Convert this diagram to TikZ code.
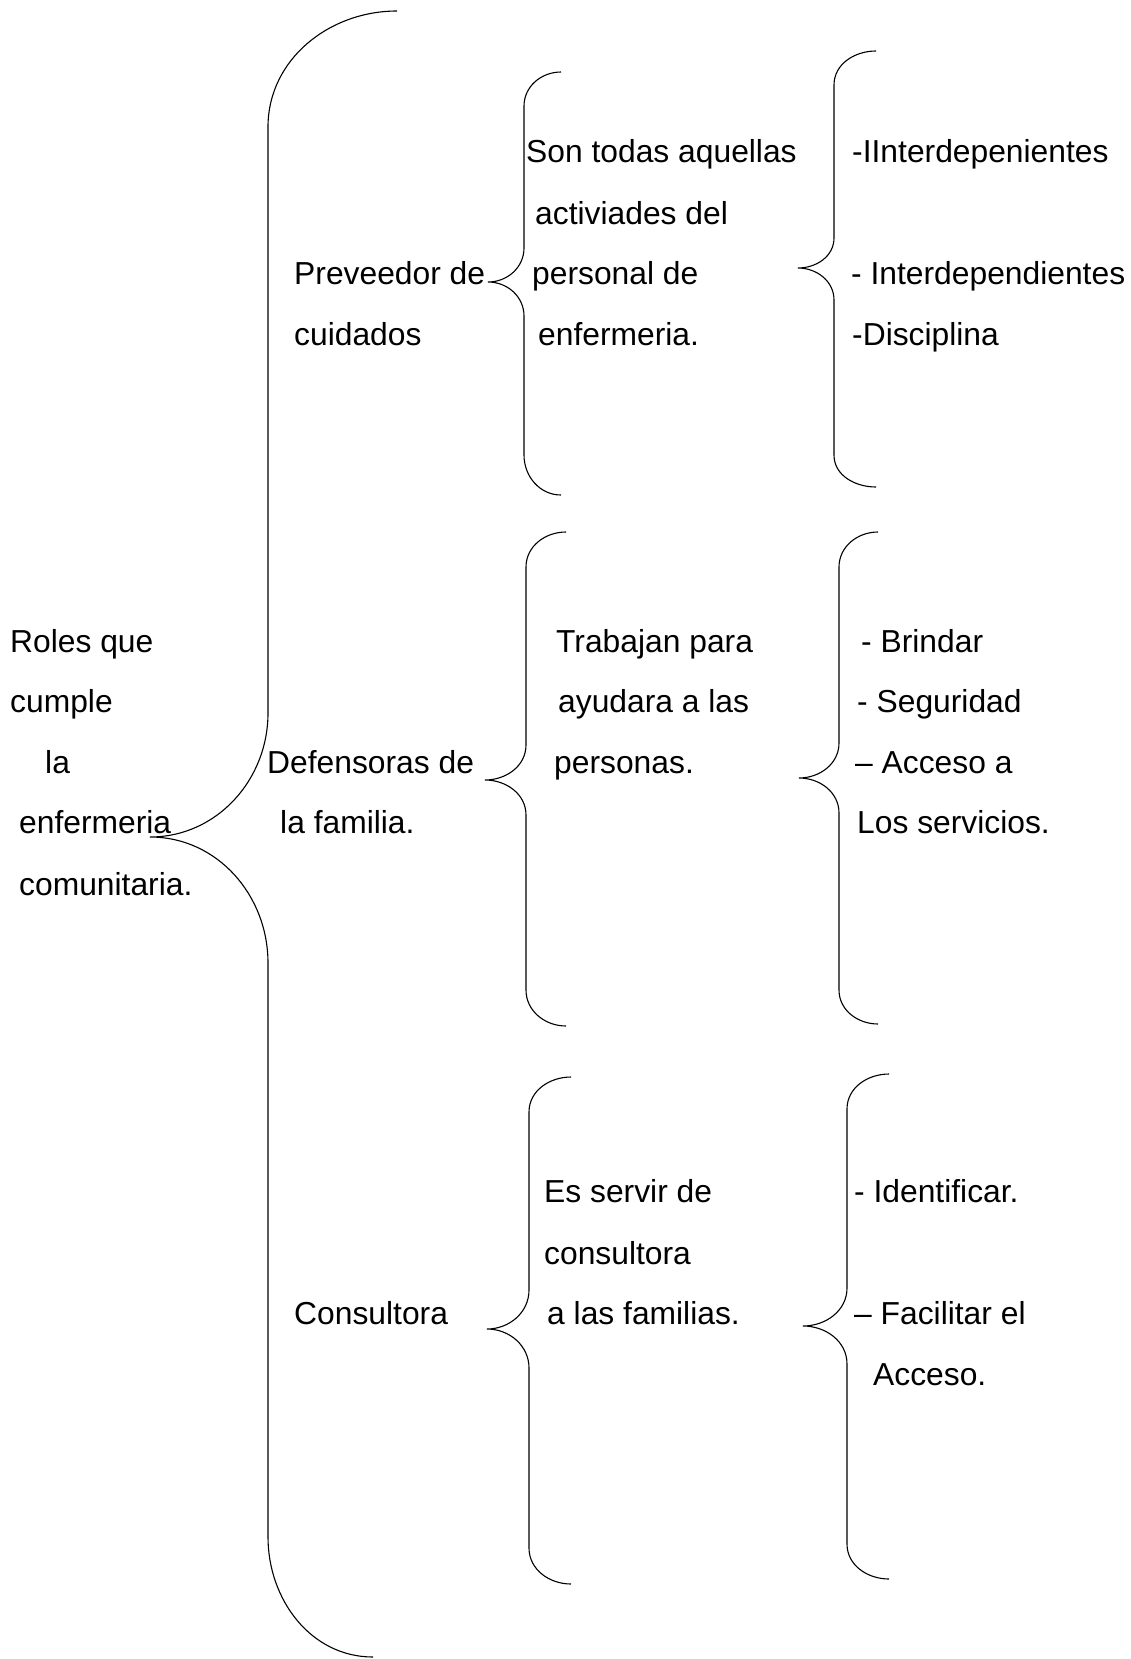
\documentclass[tikz,border=0pt]{standalone}
\usepackage{fontspec}
\setmainfont{Liberation Sans}
\begin{document}
\begin{tikzpicture}[x=1pt,y=-1pt,
  txt/.style={anchor=base west, inner sep=0pt, font=\fontsize{31.8}{38}\selectfont},
  bracestroke/.style={draw=black, line width=1.1pt}]
\useasboundingbox[fill=white] (0,0) rectangle (1130,1659);

% ---------- braces ----------
% main brace
\draw[bracestroke] (397,11) to[out=180,in=90] (268,127) -- (268,713)
  to[out=-90,in=0] (150,837) to[out=0,in=90] (268,963) -- (268,1537)
  to[out=-90,in=180] (373,1657);
% row 1
\draw[bracestroke] (561,72) to[out=180,in=90] (524,106) -- (524,248)
  to[out=-90,in=0] (488,282) to[out=0,in=90] (524,316) -- (524,455)
  to[out=-90,in=180] (561,495);
\draw[bracestroke] (876,51) to[out=180,in=90] (834,85) -- (834,238)
  to[out=-90,in=0] (798,268) to[out=0,in=90] (834,300) -- (834,455)
  to[out=-90,in=180] (876,487);
% row 2
\draw[bracestroke] (566,532) to[out=180,in=90] (526,567) -- (526,745)
  to[out=-90,in=0] (485,780) to[out=0,in=90] (526,815) -- (526,990)
  to[out=-90,in=180] (566,1026);
\draw[bracestroke] (878,532) to[out=180,in=90] (839,567) -- (839,743)
  to[out=-90,in=0] (799,778) to[out=0,in=90] (839,813) -- (839,990)
  to[out=-90,in=180] (878,1024);
% row 3
\draw[bracestroke] (571,1077) to[out=180,in=90] (529,1112) -- (529,1290)
  to[out=-90,in=0] (487,1329) to[out=0,in=90] (529,1368) -- (529,1548)
  to[out=-90,in=180] (571,1584);
\draw[bracestroke] (889,1074) to[out=180,in=90] (847,1109) -- (847,1288)
  to[out=-90,in=0] (803,1326) to[out=0,in=90] (847,1364) -- (847,1544)
  to[out=-90,in=180] (889,1579);

% ---------- root text ----------
\node[txt] (r1) at (10,652) {Roles que};
\node[txt] (r2) at (10,712) {cumple};
\node[txt] (r3) at (45,773) {la};
\node[txt] (r4) at (19,833) {enfermeria};
\node[txt] (r5) at (19,895) {comunitaria.};

% ---------- level 1 ----------
\node[txt] (a1) at (294,284) {Preveedor de};
\node[txt] (a2) at (294,345) {cuidados};
\node[txt] (b1) at (267,773) {Defensoras de};
\node[txt] (b2) at (280,833) {la familia.};
\node[txt] (c1) at (294,1324) {Consultora};

% ---------- level 2 ----------
\node[txt] (a3) at (526,162) {Son todas aquellas};
\node[txt] (a4) at (535,224) {activiades del};
\node[txt] (a5) at (532,284) {personal de};
\node[txt] (a6) at (538,345) {enfermeria.};

\node[txt] (b3) at (556,652) {Trabajan para};
\node[txt] (b4) at (558,712) {ayudara a las};
\node[txt] (b5) at (554,773) {personas.};

\node[txt] (c2) at (544,1202) {Es servir de};
\node[txt] (c3) at (544,1264) {consultora};
\node[txt] (c4) at (547,1324) {a las familias.};

% ---------- level 3 ----------
\node[txt] (a7) at (852,162) {-IInterdepenientes};
\node[txt] (a8) at (851,284) {- Interdependientes};
\node[txt] (a9) at (852,345) {-Disciplina};

\node[txt] (b6) at (861,652) {- Brindar};
\node[txt] (b7) at (857,712) {- Seguridad};
\node[txt] (b8) at (855,773) {– Acceso a};
\node[txt] (b9) at (857,833) {Los servicios.};

\node[txt] (c5) at (854,1202) {- Identificar.};
\node[txt] (c6) at (854,1324) {– Facilitar el};
\node[txt] (c7) at (873,1385) {Acceso.};
\end{tikzpicture}
\end{document}
